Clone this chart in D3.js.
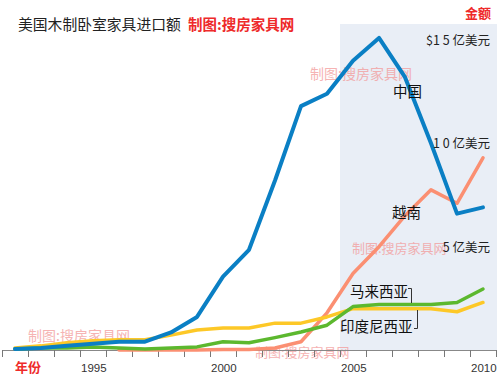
<!DOCTYPE html>
<html><head><meta charset="utf-8">
<script src="https://cdn.jsdelivr.net/npm/d3@7"></script>
<style>
html,body{margin:0;padding:0;background:#fff;}
svg{display:block;font-family:"Noto Sans CJK SC","Noto Sans",sans-serif;}
</style></head>
<body>
<script>
const years = [1992,1993,1994,1995,1996,1997,1998,1999,2000,2001,2002,2003,2004,2005,2006,2007,2008,2009,2010];
const china = [0.05,0.1,0.2,0.3,0.4,0.4,0.85,1.6,3.55,4.85,8.2,11.8,12.4,14.0,15.1,13.2,10.0,6.6,6.9];
const vietnamYears = [1996,1997,1998,1999,2000,2001,2002,2003,2004,2005,2006,2007,2008,2009,2010];
const vietnam = [0,0,0,0,0.02,0.03,0.1,0.4,1.8,3.7,5.0,6.5,7.75,7.1,9.3];
const indonesia = [0.1,0.2,0.35,0.45,0.5,0.5,0.72,0.97,1.06,1.06,1.3,1.3,1.6,2.0,2.0,2.0,2.0,1.85,2.3];
const malaysia = [0.05,0.1,0.1,0.15,0.1,0.05,0.1,0.15,0.4,0.35,0.6,0.87,1.2,2.1,2.2,2.2,2.2,2.3,2.95];
const tickYears = d3.range(1992, 2012);
const labelYears = [1995,2000,2005,2010];
const yLabels = [{v:15,t:"$1 5 亿美元"},{v:10,t:"1 0 亿美元"},{v:5,t:"5 亿美元"}];

const W=500,H=375;
const svg=d3.select("body").append("svg").attr("width",W).attr("height",H);
const x=d3.scaleLinear().domain([1995,2010]).range([80,470]);
const xp = yr => x(yr+0.5);
const y=d3.scaleLinear().domain([0,15]).range([350,40]);

// shaded region 2005 onward
svg.append("rect").attr("x",x(2005)).attr("y",24).attr("width",497-x(2005)).attr("height",y(0)-24)
  .attr("fill","#e9eef6");

// watermarks
const wm=[[310,79,14],[352,253,13],[28,341,14],[255,357,13]];
svg.selectAll(".wm").data(wm).join("text").attr("x",d=>d[0]).attr("y",d=>d[1])
  .attr("font-size",d=>d[2]).attr("fill","#f39a9a").attr("opacity",0.75).text("制图:搜房家具网");

// axis
const axis=d3.axisBottom(x).tickValues(tickYears).tickSize(7).tickFormat("");
const ag=svg.append("g").attr("transform",`translate(0,${y(0)})`).call(axis);
ag.select(".domain").attr("stroke","#888").attr("d",`M${x(1992)},0.5H${x(2011)}`);
ag.selectAll(".tick line").attr("stroke","#777");
svg.selectAll(".yl").data(labelYears).join("text").attr("x",d=>x(d)+1).attr("y",372)
  .attr("font-size",11.5).attr("font-family","Liberation Sans, Arial, sans-serif").attr("fill","#333").text(d=>d);

const line=d3.line().x(d=>xp(d[0])).y(d=>y(d[1])).curve(d3.curveLinear);
function draw(xs,vs,color,w){
  svg.append("path").datum(xs.map((yr,i)=>[yr,vs[i]])).attr("d",line)
    .attr("fill","none").attr("stroke",color).attr("stroke-width",w).attr("stroke-linejoin","round").attr("stroke-linecap","round");
}
draw(vietnamYears,vietnam,"#fb8f72",3.5);
draw(years,indonesia,"#fdc827",3.5);
draw(years,malaysia,"#5cb82e",3.5);
draw(years,china,"#0a7fc4",4);

// y value labels
svg.selectAll(".vl").data(yLabels).join("text").attr("x",490).attr("y",d=>y(d.v)+5)
  .attr("text-anchor","end").attr("font-size",12.5).attr("fill","#222").text(d=>d.t);

// titles
svg.append("text").attr("x",18).attr("y",30).attr("font-size",14.8).attr("fill","#222").text("美国木制卧室家具进口额");
svg.append("text").attr("x",188).attr("y",30).attr("font-size",14.5).attr("font-weight","bold").attr("fill","#ee2a2a").text("制图:搜房家具网");
svg.append("text").attr("x",465).attr("y",18).attr("font-size",13).attr("font-weight","bold").attr("fill","#ee2a2a").text("金额");
svg.append("text").attr("x",15).attr("y",372).attr("font-size",13).attr("font-weight","bold").attr("fill","#ee2a2a").text("年份");

// series labels
const lab=[["中国",393,97],["越南",392,218],["马来西亚",350,297],["印度尼西亚",340,332]];
svg.selectAll(".sl").data(lab).join("text").attr("x",d=>d[1]).attr("y",d=>d[2])
  .attr("font-size",14.5).attr("fill","#111").text(d=>d[0]);
// brackets
svg.append("path").attr("d","M408,288.5H411.5V303").attr("fill","none").attr("stroke","#333").attr("stroke-width",1);
svg.append("path").attr("d","M414,328.5H417.5V310").attr("fill","none").attr("stroke","#333").attr("stroke-width",1);
</script>
</body></html>
